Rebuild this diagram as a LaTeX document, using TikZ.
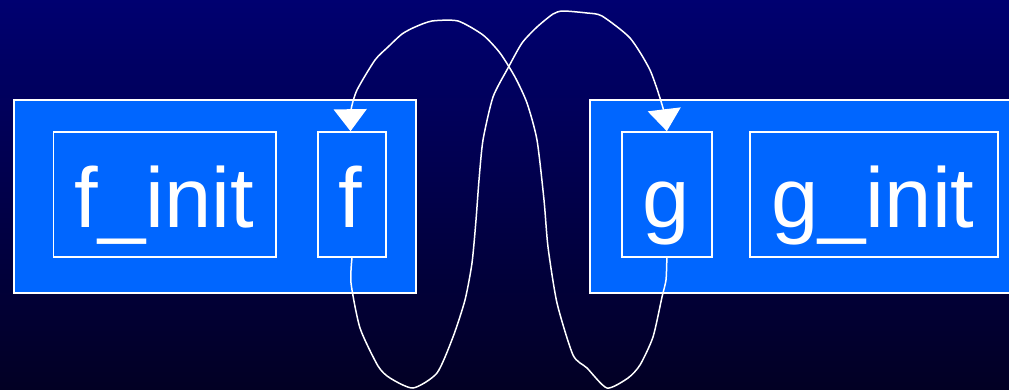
\documentclass[tikz,border=0pt]{standalone}
\usepackage{fontspec}
\setmainfont{Liberation Sans}
\usetikzlibrary{arrows.meta}
\definecolor{bgtop}{RGB}{0,0,112}
\definecolor{bgbot}{RGB}{2,0,36}
\definecolor{boxblue}{RGB}{0,102,255}
\begin{document}
\begin{tikzpicture}[x=1pt,y=-1pt,
  outerbox/.style={draw=white,line width=2pt,fill=boxblue,inner sep=0pt},
  innerbox/.style={draw=white,line width=1.6pt,fill=boxblue,inner sep=0pt,minimum height=125pt},
  lbl/.style={text=white,anchor=base,inner sep=0pt,font=\fontsize{85}{90}\selectfont},
  link/.style={draw=white,line width=1.5pt,-{Triangle[width=33pt,length=22pt]}}]
\useasboundingbox (0,0) rectangle (1009,389);
\shade[top color=bgtop,bottom color=bgbot] (0,0) rectangle (1009,389);
% outer boxes
\node[outerbox,minimum width=402pt,minimum height=193pt] (L) at (215,196.5) {};
\node[outerbox,minimum width=430pt,minimum height=193pt] (R) at (805,196.5) {};
% inner boxes
\node[innerbox,minimum width=222.5pt] (finit) at (164.75,194.5) {};
\node[innerbox,minimum width=68pt] (f) at (352,194.5) {};
\node[innerbox,minimum width=90.3pt] (g) at (666.85,194.5) {};
\node[innerbox,minimum width=248pt] (ginit) at (874,194.5) {};
% labels
\node[lbl] (tfinit) at ([yshift=-32.5pt]finit.center) {f\_init};
\node[lbl] (tf) at ([yshift=-32.5pt,xshift=-2pt]f.center) {f};
\node[lbl] (tg) at ([yshift=-32.5pt,xshift=-1pt]g.center) {g};
\node[lbl] (tginit) at ([yshift=-32.5pt,xshift=-1pt]ginit.center) {g\_init};
% curves
\draw[link] plot[smooth,tension=0.4] coordinates {(f.south) (351,283) (360,328) (378,366) (390,378) (413,388) (437,373) (453,337) (465,300) (472,263) (476,220) (479,180) (483,140) (493,97) (508,68) (522,43) (537,27) (553,14) (563,11) (587,13) (602,16) (630,38) (650,70) (663,108) (g.north)};
\draw[link] plot[smooth,tension=0.4] coordinates {(g.south) (666,280) (662,297) (653,337) (640,365) (628,378) (607,388) (587,368) (573,355) (557,303) (548,247) (544,200) (537,140) (527,103) (515,77) (500,53) (483,35) (458,21) (432,21) (415,27) (402,34) (388,47) (375,60) (357,90) (351,110) ([xshift=-1.5pt]f.north)};
\end{tikzpicture}
\end{document}
